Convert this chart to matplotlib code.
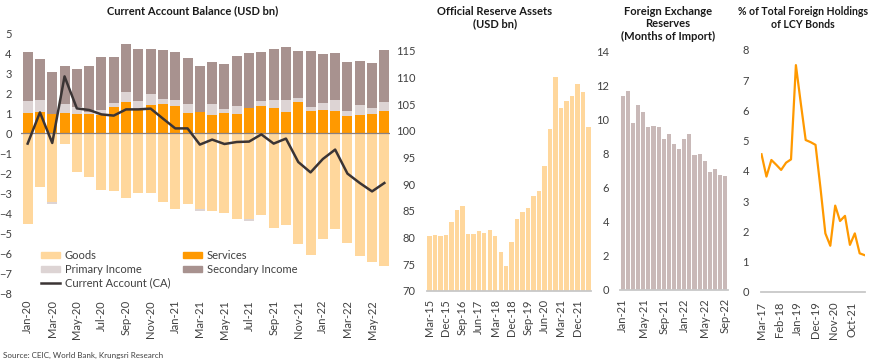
import matplotlib
matplotlib.use('Agg')
import matplotlib.pyplot as plt
import numpy as np
import pandas as pd
from matplotlib.patches import Patch
from matplotlib.lines import Line2D

plt.rcParams['font.family'] = ['Lato', 'DejaVu Sans']

# ---------------- data ----------------
ca_months = ['Jan-20', 'Feb-20', 'Mar-20', 'Apr-20', 'May-20', 'Jun-20', 'Jul-20', 'Aug-20',
             'Sep-20', 'Oct-20', 'Nov-20', 'Dec-20', 'Jan-21', 'Feb-21', 'Mar-21', 'Apr-21',
             'May-21', 'Jun-21', 'Jul-21', 'Aug-21', 'Sep-21', 'Oct-21', 'Nov-21', 'Dec-21',
             'Jan-22', 'Feb-22', 'Mar-22', 'Apr-22', 'May-22', 'Jun-22']
goods = [-4.53, -2.72, -3.45, -0.53, -1.97, -2.18, -2.87, -2.92, -3.23, -3.02, -3.00, -3.45,
         -3.80, -3.57, -3.82, -3.88, -4.02, -4.32, -4.30, -4.10, -4.77, -4.62, -5.57, -6.12,
         -5.30, -4.82, -5.52, -6.13, -6.45, -6.67]
services = [1.00, 1.03, 0.95, 1.00, 0.97, 0.95, 0.92, 1.31, 1.57, 1.13, 1.42, 1.45, 1.37, 1.00,
            1.03, 0.92, 1.00, 0.97, 1.27, 1.33, 1.25, 1.07, 1.57, 1.12, 1.17, 1.12, 0.83, 0.88,
            0.93, 1.08]
primary_income = [0.58, 0.62, -0.10, 0.47, 0.31, 0.10, 0.23, 0.17, 0.50, 0.49, 0.53, 0.25, 0.28,
                  0.43, -0.10, 0.51, 0.22, 0.36, -0.10, 0.25, 0.38, 0.60, 0.18, 0.18, 0.31, 0.51,
                  0.29, 0.52, 0.30, 0.49]
secondary_income = [2.45, 2.06, 2.10, 1.89, 1.93, 2.28, 2.66, 2.30, 2.36, 2.58, 2.25, 2.47, 2.38,
                    2.32, 2.30, 2.12, 2.25, 2.52, 2.72, 2.45, 2.59, 2.65, 2.37, 2.80, 2.49, 2.35,
                    2.41, 2.22, 2.27, 2.56]
current_account = [-0.53, 1.03, -0.50, 2.83, 1.23, 1.15, 0.93, 0.87, 1.18, 1.18, 1.22, 0.72, 0.23,
                   0.23, -0.58, -0.33, -0.55, -0.45, -0.43, -0.07, -0.53, -0.28, -1.45, -1.97,
                   -1.30, -0.83, -2.03, -2.50, -2.92, -2.50]

res_quarters = ['Mar-15', 'Jun-15', 'Sep-15', 'Dec-15', 'Mar-16', 'Jun-16', 'Sep-16', 'Dec-16',
                'Mar-17', 'Jun-17', 'Sep-17', 'Dec-17', 'Mar-18', 'Jun-18', 'Sep-18', 'Dec-18',
                'Mar-19', 'Jun-19', 'Sep-19', 'Dec-19', 'Mar-20', 'Jun-20', 'Sep-20', 'Dec-20',
                'Mar-21', 'Jun-21', 'Sep-21', 'Dec-21', 'Mar-22', 'Jun-22']
reserve_assets = [80.3, 80.5, 80.4, 80.5, 82.9, 85.1, 86.0, 80.6, 80.75, 81.2, 80.8, 81.4, 80.4,
                  77.3, 74.75, 79.1, 83.5, 84.8, 85.5, 87.75, 88.75, 93.4, 100.4, 110.1, 104.4,
                  105.7, 106.6, 108.75, 107.25, 100.8]

fx_months = ['Jan-21', 'Feb-21', 'Mar-21', 'Apr-21', 'May-21', 'Jun-21', 'Jul-21', 'Aug-21',
             'Sep-21', 'Oct-21', 'Nov-21', 'Dec-21', 'Jan-22', 'Feb-22', 'Mar-22', 'Apr-22',
             'May-22', 'Jun-22', 'Jul-22', 'Aug-22', 'Sep-22']
fx_months_import = [11.38, 11.64, 9.78, 10.84, 10.45, 9.57, 9.61, 9.53, 8.85, 9.14, 8.53, 8.28,
                    8.85, 9.14, 7.91, 7.99, 7.56, 6.93, 7.09, 6.76, 6.68]

bond_quarters = ['Mar-17', 'Jun-17', 'Sep-17', 'Dec-17', 'Mar-18', 'Jun-18', 'Sep-18', 'Dec-18',
                 'Mar-19', 'Jun-19', 'Sep-19', 'Dec-19', 'Mar-20', 'Jun-20', 'Sep-20', 'Dec-20',
                 'Mar-21', 'Jun-21', 'Sep-21', 'Dec-21', 'Mar-22', 'Jun-22']
foreign_share = [4.55, 3.81, 4.36, 4.20, 4.03, 4.27, 4.38, 7.50, 6.25, 5.02, 4.95, 4.86, 3.45,
                 1.93, 1.52, 2.85, 2.34, 2.51, 1.55, 1.93, 1.27, 1.21]
bond_ticks = ['Mar-17', 'Feb-18', 'Jan-19', 'Dec-19', 'Nov-20', 'Oct-21']

# ---------------- style ----------------
C_GOODS = '#FFD79C'
C_SERV = '#FF9900'
C_PRIM = '#DDD4D4'
C_SEC = '#A8928F'
C_CA = '#3B3434'
C_FX = '#C9B9B8'
C_TXT = '#404040'
C_AXIS = '#C8C8C8'
FS = 8

W, H = 870, 364
fig = plt.figure(figsize=(W / 100, H / 100), dpi=100)


def ax_px(x0, y0, x1, y1):
    return fig.add_axes([x0 / W, 1 - y1 / H, (x1 - x0) / W, (y1 - y0) / H])


def style(ax, ypad, xpad, bottom=True):
    for s in ax.spines.values():
        s.set_visible(False)
    if bottom:
        ax.spines['bottom'].set_visible(True)
        ax.spines['bottom'].set_color(C_AXIS)
        ax.spines['bottom'].set_linewidth(1.3)
    ax.tick_params(axis='both', length=0, labelsize=FS, labelcolor=C_TXT)
    ax.tick_params(axis='y', pad=ypad)
    ax.tick_params(axis='x', pad=xpad, labelrotation=90)


def title_px(x, y, s, size=8):
    fig.text(x / W, 1 - y / H, s, ha='center', va='center', fontsize=size,
             fontweight='bold', color='#1A1A1A', linespacing=1.15)


# ---------------- panel 1 ----------------
ax1 = ax_px(21.5, 33, 390.5, 293)
x = np.arange(len(ca_months))
g = np.array(goods)
sv = np.array(services)
pi = np.array(primary_income)
si = np.array(secondary_income)
bw = 0.82
ax1.bar(x, g, width=bw, color=C_GOODS)
ax1.bar(x, sv, width=bw, color=C_SERV)
pi_bottom = np.where(pi >= 0, sv, g)
ax1.bar(x, pi, bottom=pi_bottom, width=bw, color=C_PRIM)
ax1.bar(x, si, bottom=sv + np.clip(pi, 0, None), width=bw, color=C_SEC)
ax1.axhline(0, color='#8A8080', lw=0.9)
ax1.plot(x, current_account, color=C_CA, lw=1.8)
ax1.set_xlim(-0.5, len(x) - 0.5)
ax1.set_ylim(-8, 5)
ax1.set_yticks(range(-8, 6))
ax1.set_xticks(x[::2])
ax1.set_xticklabels(ca_months[::2])
style(ax1, 7, 5, bottom=False)

legA = fig.legend(handles=[Patch(color=C_GOODS), Patch(color=C_PRIM), Line2D([], [], color=C_CA, lw=1.8)],
                  labels=['Goods', 'Primary Income', 'Current Account (CA)'],
                  loc='upper left', bbox_to_anchor=(41 / W, 1 - 250 / H), frameon=False,
                  fontsize=8, handlelength=1.7, handleheight=0.55, handletextpad=0.45,
                  labelspacing=0.25, borderpad=0, borderaxespad=0, labelcolor=C_TXT)
legB = fig.legend(handles=[Patch(color=C_SERV), Patch(color=C_SEC)],
                  labels=['Services', 'Secondary Income'],
                  loc='upper left', bbox_to_anchor=(183 / W, 1 - 250 / H), frameon=False,
                  fontsize=8, handlelength=1.7, handleheight=0.55, handletextpad=0.45,
                  labelspacing=0.25, borderpad=0, borderaxespad=0, labelcolor=C_TXT)

title_px(193, 11, 'Current Account Balance (USD bn)')
fig.text(3 / W, 1 - 355 / H, 'Source: CEIC, World Bank, Krungsri Research', fontsize=5.8,
         color=C_TXT, va='center', ha='left')

# ---------------- panel 2 ----------------
ax2 = ax_px(426.8, 51, 591.1, 291)
x2 = np.arange(len(res_quarters))
ax2.bar(x2, reserve_assets, width=0.8, color=C_GOODS)
ax2.set_xlim(-0.5, len(x2) - 0.5)
ax2.set_ylim(70, 115)
ax2.set_yticks(range(70, 116, 5))
ax2.set_xticks(x2[::3])
ax2.set_xticklabels(res_quarters[::3])
style(ax2, 8, 6)
title_px(495, 18, 'Official Reserve Assets\n(USD bn)')

# ---------------- panel 3 ----------------
ax3 = ax_px(620.1, 51, 727.9, 290)
x3 = np.arange(len(fx_months))
ax3.bar(x3, fx_months_import, width=0.8, color=C_FX)
ax3.set_xlim(-0.5, len(x3) - 0.5)
ax3.set_ylim(0, 14)
ax3.set_yticks(range(0, 15, 2))
ax3.set_xticks(x3[::4])
ax3.set_xticklabels(fx_months[::4])
style(ax3, 8, 6)
title_px(668, 24, 'Foreign Exchange\nReserves\n(Months of Import)')

# ---------------- panel 4 ----------------
ax4 = ax_px(761.5, 50, 864.6, 291.7)
bd = pd.to_datetime(bond_quarters, format='%b-%y')
ax4.plot(bd, foreign_share, color=C_SERV, lw=1.6)
ax4.set_xlim(bd[0], bd[-1])
ax4.set_ylim(0, 8)
ax4.set_yticks(range(0, 9))
ax4.set_xticks(pd.to_datetime(bond_ticks, format='%b-%y'))
ax4.set_xticklabels(bond_ticks)
style(ax4, 9, 7)
title_px(803, 18, '% of Total Foreign Holdings\nof LCY Bonds', size=7.6)

fig.savefig('out.png', dpi=100)
